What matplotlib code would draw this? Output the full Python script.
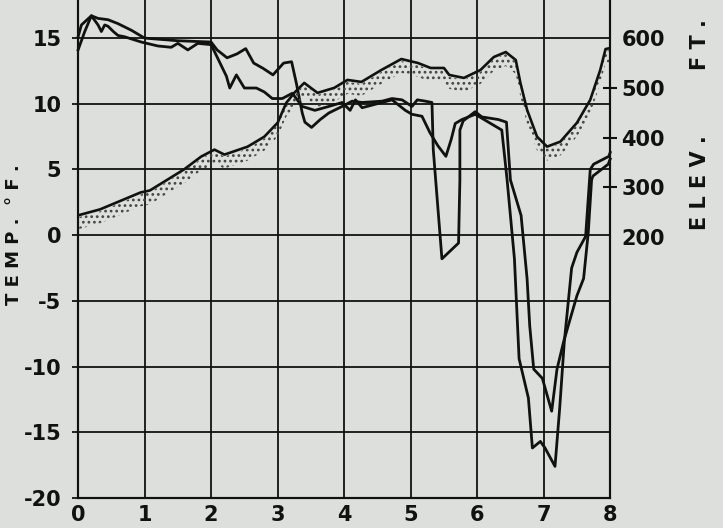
import matplotlib
matplotlib.use("Agg")
import matplotlib.pyplot as plt
import numpy as np

# ---- data ----
# distance axis (0..8), temperature (°F) and elevation (ft)
elev_x = [0, 0.33, 0.94, 1.08, 1.59, 1.85, 2.05, 2.2, 2.55, 2.8, 3.0, 3.13, 3.25,
          3.4, 3.6, 3.85, 4.05, 4.26, 4.56, 4.86, 5.11, 5.3, 5.5, 5.58, 5.8, 6.05,
          6.25, 6.43, 6.58, 6.65, 6.75, 6.9, 7.05, 7.25, 7.5, 7.7, 7.85, 7.93, 8.0]
elev_ft = [244, 256, 290, 294, 336, 362, 376, 366, 382, 402, 430, 470, 490,
           510, 490, 500, 516, 512, 536, 558, 550, 540, 540, 526, 520, 536,
           562, 572, 556, 510, 456, 402, 382, 392, 430, 476, 536, 578, 580]

t1_x = [0, 0.05, 0.2, 0.3, 0.45, 0.6, 0.8, 1.0, 1.5, 2.0, 2.09, 2.24, 2.39, 2.52,
        2.64, 2.78, 2.93, 3.09, 3.21, 3.28, 3.37, 3.41, 3.51, 3.64, 3.77, 3.97,
        4.12, 4.27, 4.57, 4.72, 4.87, 5.02, 5.1, 5.22, 5.32, 5.34, 5.47, 5.72,
        5.74, 5.74, 5.79, 5.97, 6.07, 6.32, 6.44, 6.5, 6.66, 6.75, 6.79, 6.85,
        6.98, 7.12, 7.2, 7.3, 7.5, 7.6, 7.67, 7.72, 7.74, 7.97, 8.0]
t1_f = [15.1, 16.0, 16.7, 16.5, 16.4, 16.1, 15.6, 15.0, 14.8, 14.7, 14.1, 13.5,
        13.8, 14.2, 13.1, 12.7, 12.2, 13.1, 13.2, 11.6, 9.3, 8.6, 8.2, 8.8, 9.3,
        9.8, 10.2, 10.1, 10.2, 10.4, 10.3, 9.8, 10.3, 10.2, 10.1, 6.5, -1.8,
        -0.6, 4.2, 8.0, 8.7, 9.4, 9.0, 8.8, 8.6, 4.2, 1.5, -3.3, -6.9, -10.2,
        -10.9, -13.4, -10.2, -8.1, -4.6, -3.3, 0.2, 4.2, 4.5, 5.4, 5.8]

t2_x = [0, 0.1, 0.2, 0.3, 0.35, 0.4, 0.45, 0.53, 0.6, 0.7, 0.95, 1.2, 1.4, 1.5,
        1.65, 1.8, 2.0, 2.23, 2.28, 2.38, 2.5, 2.68, 2.8, 2.92, 3.07, 3.22, 3.37,
        3.56, 3.77, 3.97, 4.09, 4.17, 4.27, 4.72, 4.92, 5.02, 5.17, 5.29, 5.41,
        5.53, 5.61, 5.67, 5.77, 5.97, 6.07, 6.27, 6.37, 6.45, 6.56, 6.63, 6.77,
        6.83, 6.95, 7.02, 7.17, 7.24, 7.31, 7.42, 7.5, 7.63, 7.7, 7.75, 7.98, 8.0]
t2_f = [14.1, 15.5, 16.7, 16.0, 15.5, 16.0, 15.9, 15.5, 15.2, 15.1, 14.7, 14.4,
        14.3, 14.6, 14.1, 14.6, 14.5, 12.1, 11.2, 12.2, 11.2, 11.2, 10.9, 10.4,
        10.4, 10.8, 9.8, 9.5, 9.8, 10.1, 9.5, 10.3, 9.7, 10.3, 9.5, 9.2, 9.05,
        7.8, 6.8, 6.0, 7.3, 8.5, 8.8, 9.2, 8.9, 8.3, 8.0, 4.2, -1.8, -9.4, -12.4,
        -16.2, -15.7, -16.2, -17.6, -13.2, -8.1, -2.5, -1.3, -0.1, 5.0, 5.4, 6.0, 6.3]

x_ticks = [0, 1, 2, 3, 4, 5, 6, 7, 8]
temp_ticks = [-20, -15, -10, -5, 0, 5, 10, 15]
elev_ticks = [200, 300, 400, 500, 600]

# ---- style ----
BG = "#dcdfdb"
INK = "#111111"
FONT = "DejaVu Sans"
FS = 15

fig = plt.figure(figsize=(7.23, 5.28), dpi=100, facecolor=BG)
ax = fig.add_axes([0.108, 0.057, 0.736, 0.943])
ax.set_facecolor(BG)

T_LO, T_HI = -20, 17.9
ax.set_xlim(0, 8)
ax.set_ylim(T_LO, T_HI)

# elevation axis: 600 ft at 15 °F, 100 ft per 3.79 °F
k = 0.0379
def t2e(t):
    return 600 + (t - 15) / k

ax2 = ax.twinx()
ax2.set_ylim(t2e(T_LO), t2e(T_HI))
ax2.patch.set_visible(False)

# grid
ax.set_xticks(x_ticks)
ax.set_yticks(temp_ticks)
ax.grid(True, color=INK, linewidth=1.3)
ax.set_axisbelow(True)

for a in (ax, ax2):
    a.spines["top"].set_visible(False)
    for s in ("left", "right", "bottom"):
        a.spines[s].set_color(INK)
        a.spines[s].set_linewidth(1.5)

ax.set_xticklabels([str(v) for v in x_ticks], fontsize=FS, fontweight="bold",
                   family=FONT, color=INK)
ax.set_yticklabels([str(v) for v in temp_ticks], fontsize=FS, fontweight="bold",
                   family=FONT, color=INK)
ax.tick_params(axis="x", length=0, pad=5)
ax.tick_params(axis="y", length=4, width=1.3, pad=8, color=INK)

ax2.set_yticks(elev_ticks)
ax2.set_yticklabels([str(v) for v in elev_ticks], fontsize=FS, fontweight="bold",
                    family=FONT, color=INK)
ax2.tick_params(axis="y", direction="inout", length=10, width=1.5, pad=3, color=INK)
for tk, v in zip(ax2.yaxis.get_major_ticks(), elev_ticks):
    if v in (200, 600):
        tk.tick2line.set_visible(False)

# elevation line with stipple below
plt.rcParams["hatch.color"] = "#333333"
plt.rcParams["hatch.linewidth"] = 1.2
ex = np.array(elev_x)
ef = np.array(elev_ft)
ax2.fill_between(ex, ef - 28, ef - 4, facecolor="none", edgecolor="#444444",
                 hatch="...", linewidth=0)
ax2.plot(ex, ef, color=INK, linewidth=1.9, solid_joinstyle="round")

# temperature lines
ax.plot(t1_x, t1_f, color=INK, linewidth=2.0, solid_joinstyle="round", clip_on=False)
ax.plot(t2_x, t2_f, color=INK, linewidth=2.0, solid_joinstyle="round", clip_on=False)

# axis labels
fig.text(0.02, 0.555, "T E M P .  ° F .", rotation=90, ha="center", va="center",
         fontsize=13, fontweight="bold", family=FONT, color=INK)
fig.text(0.968, 0.765, "E L E V .         F T .", rotation=90, ha="center",
         va="center", fontsize=FS, fontweight="bold", family=FONT, color=INK)

fig.savefig("out.png", dpi=100, facecolor=BG)
